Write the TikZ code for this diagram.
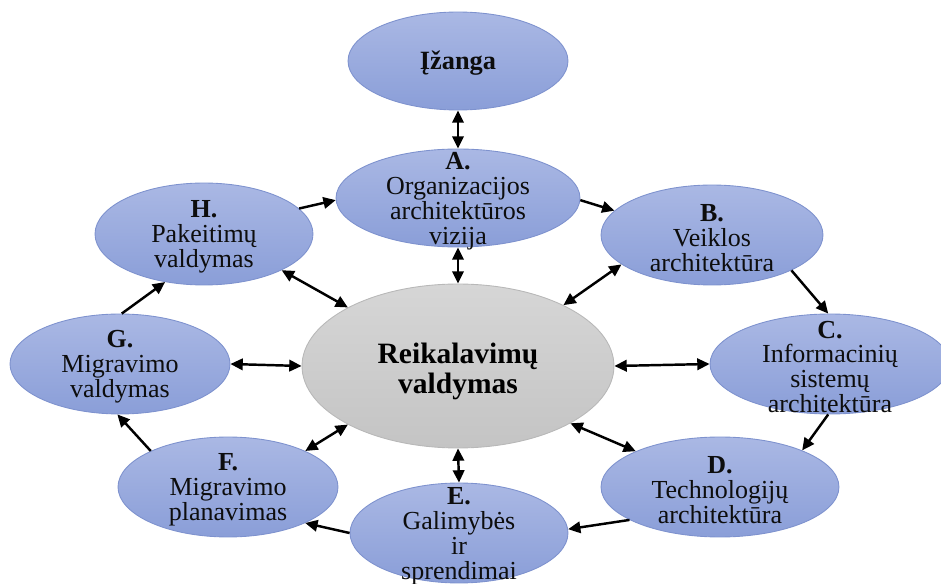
\documentclass[tikz,border=0pt]{standalone}
\usepackage{fontspec}
\setmainfont{Liberation Serif}
\usetikzlibrary{shapes.geometric,arrows.meta}
\definecolor{elltop}{RGB}{170,184,228}
\definecolor{ellbot}{RGB}{138,158,216}
\definecolor{elledge}{RGB}{126,146,206}
\definecolor{hubtop}{RGB}{214,214,214}
\definecolor{hubbot}{RGB}{196,196,196}
\definecolor{hubedge}{RGB}{184,184,184}
\begin{document}
\begin{tikzpicture}[x=0.02cm,y=-0.02cm,
  phase/.style={ellipse, draw=elledge, line width=0.5pt, top color=elltop, bottom color=ellbot, inner sep=0pt},
  hub/.style={ellipse, draw=hubedge, line width=0.5pt, top color=hubtop, bottom color=hubbot, inner sep=0pt},
  lbl/.style={align=center, inner sep=0pt, yshift=-1.7pt, text=black!95, font=\fontsize{14.8}{14.2}\selectfont},
  hublbl/.style={align=center, inner sep=0pt, yshift=-3pt, text=black, font=\fontsize{16.8}{17}\selectfont\bfseries},
  link/.style={line width=1.4pt, -{Triangle[length=7pt,width=6.5pt]}},
  both/.style={line width=1.4pt, {Triangle[length=7pt,width=6.5pt]}-{Triangle[length=7pt,width=6.5pt]}}
]
\useasboundingbox (0,0) rectangle (941,584);

% ellipses
\node[phase, minimum width=4.40cm, minimum height=1.96cm] (intro) at (458,61) {};
\node[phase, minimum width=4.88cm, minimum height=1.96cm] (A) at (458,198) {};
\node[phase, minimum width=4.44cm, minimum height=2.00cm] (B) at (712,235) {};
\node[phase, minimum width=4.80cm, minimum height=2.00cm] (C) at (830,364) {};
\node[phase, minimum width=4.76cm, minimum height=2.00cm] (D) at (720,487) {};
\node[phase, minimum width=4.36cm, minimum height=2.00cm] (E) at (459,533) {};
\node[phase, minimum width=4.40cm, minimum height=2.00cm] (F) at (228,487) {};
\node[phase, minimum width=4.40cm, minimum height=2.00cm] (G) at (120,364) {};
\node[phase, minimum width=4.36cm, minimum height=2.04cm] (H) at (204,234) {};
\node[hub, minimum width=6.24cm, minimum height=3.28cm] (R) at (458,366) {};

% labels
\node[lbl, font=\fontsize{15}{15}\selectfont\bfseries, yshift=0.3pt] (introt) at (intro) {Įžanga};
\node[lbl] (At) at (A) {\textbf{A.}\\Organizacijos\\architektūros\\vizija};
\node[lbl] (Bt) at (B) {\textbf{B.}\\Veiklos\\architektūra};
\node[lbl] (Ct) at (C) {\textbf{C.}\\Informacinių\\sistemų\\architektūra};
\node[lbl] (Dt) at (D) {\textbf{D.}\\Technologijų\\architektūra};
\node[lbl] (Et) at (E) {\textbf{E.}\\Galimybės\\ir\\sprendimai};
\node[lbl] (Ft) at (F) {\textbf{F.}\\Migravimo\\planavimas};
\node[lbl] (Gt) at (G) {\textbf{G.}\\Migravimo\\valdymas};
\node[lbl] (Ht) at (H) {\textbf{H.}\\Pakeitimų\\valdymas};
\node[hublbl] (Rt) at (R) {Reikalavimų\\valdymas};

% links with the central requirements management
\draw[both] (intro.south) -- (A.north);
\draw[both] (A.south) -- (R.north);
\draw[both] (R.south) -- (E.north);
\draw[both] (G.east) -- (R.west);
\draw[both] (R.east) -- (C.west);
\draw[both] (H.335) -- (R.152);
\draw[both] (B.198) -- (R.30);
\draw[both] (F.25) -- (R.208);
\draw[both] (R.333) -- (D.157);

% cycle of phases
\draw[link] (H.15) -- (A.181);
\draw[link] (A.359) -- (B.166);
\draw[link] (B.336) -- (C.92);
\draw[link] (C.268) -- (D.24);
\draw[link] (D.200) -- (E.2);
\draw[link] (E.180) -- (F.335);
\draw[link] (F.155) -- (G.267);
\draw[link] (G.88) -- (H.231);
\end{tikzpicture}
\end{document}
